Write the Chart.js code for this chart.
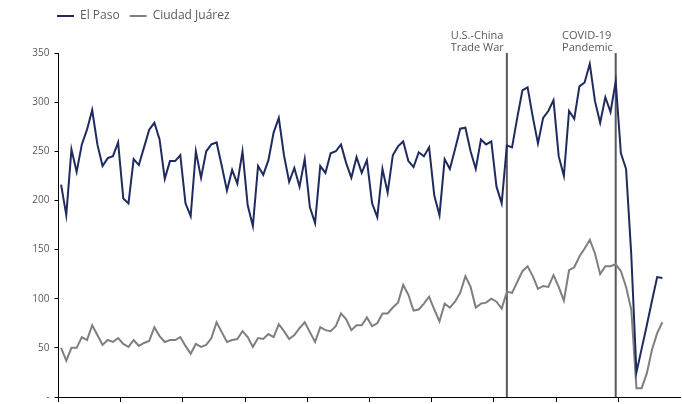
<!DOCTYPE html>
<html>
<head>
<meta charset="utf-8">
<script src="https://cdn.jsdelivr.net/npm/chart.js@4/dist/chart.umd.min.js"></script>
<style>
  html, body { margin: 0; padding: 0; background: #fff; }
</style>
</head>
<body>
<canvas id="crossings" width="682" height="404"></canvas>
<script>
const years = [2011, 2012, 2013, 2014, 2015, 2016, 2017, 2018, 2019, 2020];
const monthNames = ['Jan', 'Feb', 'Mar', 'Apr', 'May', 'Jun', 'Jul', 'Aug', 'Sep', 'Oct', 'Nov', 'Dec'];
const months = [];
years.forEach(y => monthNames.forEach(m => months.push(m + ' ' + y)));

const elPaso = [
  216, 185, 252, 229, 257, 272, 292, 257, 235, 243, 245, 259,
  202, 197, 242, 236, 254, 272, 279, 262, 222, 240, 240, 246,
  197, 184, 250, 223, 250, 257, 259, 235, 210, 231, 217, 250,
  195, 174, 235, 226, 241, 269, 284, 246, 219, 233, 214, 242,
  193, 177, 235, 228, 248, 250, 257, 238, 223, 244, 228, 241,
  197, 183, 232, 208, 246, 255, 260, 240, 234, 249, 245, 254,
  205, 185, 242, 232, 252, 273, 274, 250, 232, 262, 257, 260,
  214, 197, 256, 254, 284, 312, 315, 285, 258, 284, 291, 302,
  245, 225, 291, 283, 316, 320, 339, 301, 279, 305, 290, 321,
  248, 232, 145, 25, 49, 73, 98, 122, 121
];

const ciudadJuarez = [
  50, 37, 50, 50, 61, 58, 73, 63, 53, 58, 56, 60,
  54, 51, 58, 52, 55, 57, 71, 62, 56, 58, 58, 61,
  52, 44, 54, 51, 53, 60, 76, 66, 56, 58, 59, 67,
  61, 51, 60, 59, 64, 61, 74, 67, 59, 63, 70, 76,
  66, 56, 71, 68, 67, 72, 85, 79, 68, 73, 73, 81,
  72, 75, 85, 85, 91, 96, 114, 104, 88, 89, 95, 102,
  89, 77, 95, 91, 97, 106, 123, 112, 91, 95, 96, 100,
  97, 90, 107, 106, 117, 128, 133, 123, 110, 113, 112, 124,
  112, 98, 129, 132, 143, 151, 160, 146, 125, 133, 133, 135,
  128, 112, 89, 9, 9, 24, 48, 65, 76
];

// month index of each marked event
const eventIndex = [86, 107];
const eventLabels = [['U.S.-China', 'Trade War'], ['COVID-19', 'Pandemic']];

Chart.defaults.font.family = '"Open Sans", sans-serif';
Chart.defaults.color = '#595959';

// vertical event lines with their captions
const eventLines = {
  id: 'eventLines',
  beforeDatasetsDraw(chart) {
    const { ctx, chartArea, scales: { x } } = chart;
    ctx.save();
    ctx.font = '11px "Open Sans", sans-serif';
    eventIndex.forEach((idx, k) => {
      const px = x.getPixelForValue(idx);
      ctx.strokeStyle = '#595959';
      ctx.lineWidth = 2;
      ctx.beginPath();
      ctx.moveTo(px, chartArea.top);
      ctx.lineTo(px, chartArea.bottom);
      ctx.stroke();

      const lines = eventLabels[k];
      const w = Math.max(...lines.map(t => ctx.measureText(t).width));
      ctx.fillStyle = '#595959';
      ctx.textAlign = 'left';
      ctx.textBaseline = 'alphabetic';
      lines.forEach((t, j) => ctx.fillText(t, px - 3 - w, 39 + j * 11.5));
    });
    ctx.restore();
  }
};

// leave room under the legend for the event captions, and line it up with the axis
const legendSpace = {
  id: 'legendSpace',
  beforeInit(chart) {
    const fit = chart.legend.fit;
    chart.legend.fit = function() {
      fit.call(this);
      this.height = 53;
    };
  },
  afterLayout(chart) {
    chart.legend.left = 47;
  }
};

new Chart(document.getElementById('crossings'), {
  type: 'line',
  data: {
    labels: months,
    datasets: [
      {
        label: 'El Paso',
        data: elPaso,
        borderColor: '#1f2b5e',
        backgroundColor: '#1f2b5e',
        borderWidth: 2,
        pointRadius: 0,
        tension: 0,
        fill: false
      },
      {
        label: 'Ciudad Juárez',
        data: ciudadJuarez,
        borderColor: '#7f7f7f',
        backgroundColor: '#7f7f7f',
        borderWidth: 2,
        pointRadius: 0,
        tension: 0,
        fill: false
      }
    ]
  },
  options: {
    responsive: false,
    animation: false,
    layout: { padding: { left: 0, right: 1.5, top: 0, bottom: 2 } },
    plugins: {
      legend: {
        position: 'top',
        align: 'start',
        labels: {
          boxWidth: 17,
          boxHeight: 2,
          padding: 10,
          color: '#595959',
          font: { size: 12 },
          generateLabels(chart) {
            return Chart.defaults.plugins.legend.labels.generateLabels(chart).map(item => {
              item.fillStyle = item.strokeStyle;
              item.lineWidth = 0;
              return item;
            });
          }
        }
      },
      tooltip: { enabled: false }
    },
    scales: {
      x: {
        type: 'category',
        offset: true,
        afterFit(scale) { scale.height = 5; },
        border: { color: '#000', width: 1 },
        grid: {
          offset: true,
          drawOnChartArea: false,
          drawTicks: true,
          tickLength: 5,
          tickColor: ctx => (ctx.index % 12 === 0 ? '#000' : 'rgba(0,0,0,0)')
        },
        ticks: { display: false, autoSkip: false }
      },
      y: {
        min: 0,
        max: 350,
        afterFit(scale) {
          scale.width = 58.5;
          scale.paddingTop = 0;
          scale.paddingBottom = 0;
        },
        border: { color: '#000', width: 1 },
        grid: { drawOnChartArea: false, tickLength: 4, tickColor: '#000' },
        ticks: {
          stepSize: 50,
          padding: 5,
          color: '#595959',
          font: { size: 10 },
          callback: v => (v === 0 ? '-' : v)
        }
      }
    }
  },
  plugins: [eventLines, legendSpace]
});
</script>
</body>
</html>
